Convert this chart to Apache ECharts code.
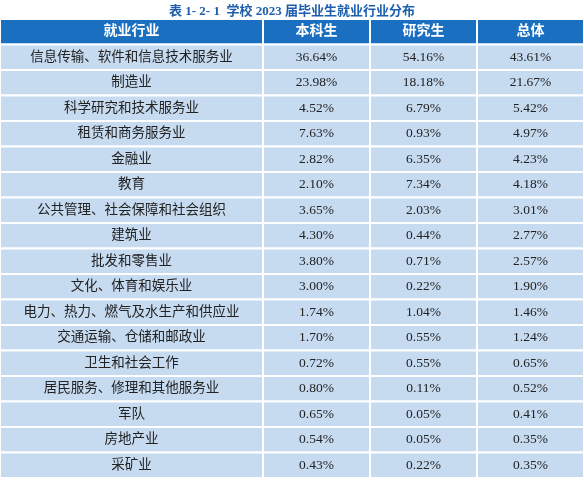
<!DOCTYPE html>
<html><head><meta charset="utf-8">
<script src="https://cdn.jsdelivr.net/npm/echarts@6/dist/echarts.min.js"></script>
<style>html,body{margin:0;padding:0;background:#fff}#c{width:584px;height:480px}</style>
</head><body><div id="c"></div>
<script>
const title = '表 1- 2- 1  学校 2023 届毕业生就业行业分布';
const headers = ['就业行业','本科生','研究生','总体'];
const industries = ['信息传输、软件和信息技术服务业','制造业','科学研究和技术服务业','租赁和商务服务业','金融业','教育','公共管理、社会保障和社会组织','建筑业','批发和零售业','文化、体育和娱乐业','电力、热力、燃气及水生产和供应业','交通运输、仓储和邮政业','卫生和社会工作','居民服务、修理和其他服务业','军队','房地产业','采矿业'];
const undergrad = ['36.64%','23.98%','4.52%','7.63%','2.82%','2.10%','3.65%','4.30%','3.80%','3.00%','1.74%','1.70%','0.72%','0.80%','0.65%','0.54%','0.43%'];
const graduate = ['54.16%','18.18%','6.79%','0.93%','6.35%','7.34%','2.03%','0.44%','0.71%','0.22%','1.04%','0.55%','0.55%','0.11%','0.05%','0.05%','0.22%'];
const overall = ['43.61%','21.67%','5.42%','4.97%','4.23%','4.18%','3.01%','2.77%','2.57%','1.90%','1.46%','1.24%','0.65%','0.52%','0.41%','0.35%','0.35%'];
const colEdges = [0,263,370,477,584];

const rows = [headers];
industries.forEach((n,i)=>rows.push([n,undergrad[i],graduate[i],overall[i]]));
const data = [];
rows.forEach((r,ri)=>r.forEach((t,ci)=>data.push([ci,ri,t])));

const chart = echarts.init(document.getElementById('c'));
chart.setOption({
  animation:false,
  title:{text:title,left:'center',top:0,textStyle:{fontSize:13,fontWeight:'bold',color:'#1d5fae',fontFamily:'Liberation Serif, Noto Sans CJK SC'}},
  grid:{left:0,right:0,top:19,bottom:2},
  xAxis:{type:'value',min:0,max:584,show:false},
  yAxis:{type:'category',data:rows.map((r,i)=>i),inverse:true,show:false},
  series:[{type:'custom',data:data,renderItem:function(params,api){
    const ci=api.value(0), ri=api.value(1);
    const x0=api.coord([colEdges[ci],ri])[0], x1=api.coord([colEdges[ci+1],ri])[0];
    const yc=api.coord([0,ri])[1], h=api.size([0,1])[1];
    const header = ri===0;
    const txt = rows[ri][ci];
    return {type:'group',children:[
      {type:'rect',shape:{x:x0,y:yc-h/2,width:x1-x0,height:h},
       style:{fill:header?'#1b6fc0':'#c6daf0',stroke:'#fff',lineWidth:2}},
      {type:'text',style:{x:(x0+x1)/2,y:yc,text:txt,align:'center',verticalAlign:'middle',
        fill:header?'#fff':'#222',fontSize:header?14:13.5,fontWeight:header?'bold':'normal',
        fontFamily:'Liberation Serif, Noto Sans CJK SC'}}
    ]};
  }}]
});
</script></body></html>
